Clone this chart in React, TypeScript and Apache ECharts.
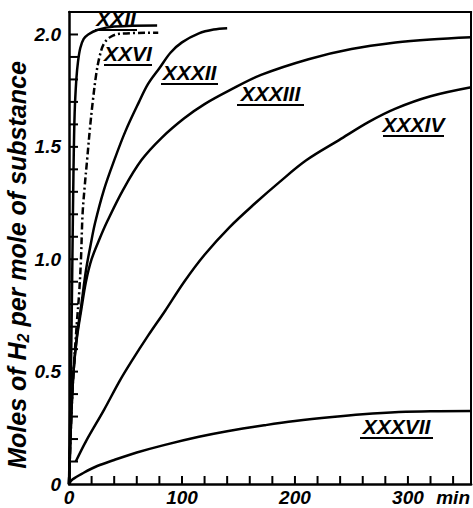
import React, { useEffect, useRef } from 'react';
import * as echarts from 'echarts';

// ---- data (x: minutes, y: moles H2 per mole substance) ----
const seriesNames = ['XXII', 'XXVI', 'XXXII', 'XXXIII', 'XXXIV', 'XXXVII'];

const xxii: number[][] = [
  [0, 0], [1, 0.3], [2, 0.6], [3, 1.0], [4, 1.4], [5, 1.65], [6.5, 1.8], [8, 1.88],
  [10, 1.94], [13, 1.98], [17, 2.0], [25, 2.02], [40, 2.035], [78, 2.04],
];
const xxvi: number[][] = [
  [0, 0], [2, 0.3], [4, 0.5], [7, 0.72], [9, 0.85], [10.6, 1.0], [12, 1.2], [14, 1.33],
  [16, 1.44], [18.5, 1.58], [21, 1.7], [24, 1.82], [27, 1.9], [31, 1.96], [37, 1.99],
  [45, 2.003], [79, 2.008],
];
const xxxii: number[][] = [
  [0, 0], [2, 0.3], [4, 0.5], [7, 0.66], [11, 0.8], [15, 0.95], [19, 1.06], [23, 1.16],
  [31, 1.31], [40, 1.44], [50, 1.57], [62, 1.7], [70, 1.78], [80, 1.85], [90, 1.92],
  [100, 1.965], [115, 2.005], [128, 2.022], [140, 2.028],
];
const xxxiii: number[][] = [
  [0, 0], [2, 0.3], [4, 0.5], [7, 0.65], [11, 0.78], [15, 0.9], [20, 1.0], [27, 1.09],
  [34, 1.17], [48, 1.31], [64, 1.44], [82, 1.54], [102, 1.627], [120, 1.69], [142, 1.751],
  [170, 1.82], [212, 1.89], [250, 1.935], [289, 1.964], [320, 1.978], [356, 1.988],
];
const xxxiv: number[][] = [
  [6, 0.1], [15, 0.19], [31, 0.33], [45, 0.46], [56, 0.551], [70, 0.66], [85, 0.77],
  [102, 0.9], [120, 1.02], [142, 1.142], [165, 1.25], [186, 1.342], [210, 1.44],
  [239, 1.53], [265, 1.61], [289, 1.67], [320, 1.725], [356, 1.765],
];
const xxxvii: number[][] = [
  [0, 0], [3, 0.02], [13, 0.05], [25, 0.08], [40, 0.107], [60, 0.14], [84, 0.173],
  [115, 0.21], [140, 0.235], [174, 0.262], [200, 0.28], [233, 0.298], [260, 0.31],
  [292, 0.32], [320, 0.324], [356, 0.325],
];

// tick positions
const xTicks = [20, 40, 60, 80, 100, 120, 140, 160, 180, 200, 220, 240, 260, 280, 300, 320, 340];
const yTicks = [0.1, 0.2, 0.3, 0.4, 0.5, 0.6, 0.7, 0.8, 0.9, 1.0, 1.1, 1.2, 1.3, 1.4, 1.5, 1.6, 1.7, 1.8, 1.9, 2.0];
const yLabelValues = [0, 0.5, 1.0, 1.5, 2.0];
const xLabelValues = [0, 100, 200, 300];
const xUnitAt = 340;
const xUnit = 'min';
const yTitleParts = ['Moles of H', '2', ' per mole of substance'];

// ---- layout (pixel positions of annotations) ----
const labelLayout = [
  { x: 95, y: 30, w: 42 },
  { x: 104, y: 65, w: 48 },
  { x: 161, y: 84, w: 57 },
  { x: 237, y: 105, w: 67 },
  { x: 383, y: 136, w: 61 },
  { x: 360, y: 438, w: 73 },
];

const FONT = '"Liberation Sans", Arial, sans-serif';
const TICK_LEN = 9;

export default function App() {
  const ref = useRef<HTMLDivElement>(null);
  useEffect(() => {
    if (!ref.current) return;
    const chart = echarts.init(ref.current, undefined, { renderer: 'svg' });
    const allData = [xxii, xxvi, xxxii, xxxiii, xxxiv, xxxvii];
    const series: any[] = allData.map((d, i) => ({
      name: seriesNames[i],
      type: 'line',
      data: d,
      showSymbol: false,
      smooth: 0.35,
      lineStyle: {
        color: '#000',
        width: 2.5,
        type: i === 1 ? [7, 3, 2, 3] : 'solid',
      },
      z: 3,
    }));

    const labelGraphics: any[] = [];
    seriesNames.forEach((n, i) => {
      const L = labelLayout[i];
      labelGraphics.push({
        type: 'text',
        x: L.x + L.w / 2,
        y: L.y - 1,
        style: {
          text: n,
          font: `italic bold 21px ${FONT}`,
          fill: '#000',
          textAlign: 'center',
          textVerticalAlign: 'bottom',
        },
        z: 10,
      });
      labelGraphics.push({
        type: 'line',
        shape: { x1: L.x, y1: L.y, x2: L.x + L.w, y2: L.y },
        style: { stroke: '#000', lineWidth: 2 },
        z: 10,
      });
    });

    const baseLabel = {
      color: '#000',
      fontSize: 19,
      fontStyle: 'italic',
      fontWeight: 'bold',
      fontFamily: FONT,
    };

    const titleGraphic = {
      type: 'text',
      x: 17,
      y: 265,
      rotation: Math.PI / 2,
      style: {
        text: `{n|${yTitleParts[0]}}{s|${yTitleParts[1]}}{n|${yTitleParts[2]}}`,
        textAlign: 'center',
        textVerticalAlign: 'middle',
        rich: {
          n: { font: `italic bold 25px ${FONT}`, fill: '#000', lineHeight: 28, verticalAlign: 'middle' },
          s: { font: `italic bold 16px ${FONT}`, fill: '#000', lineHeight: 28, verticalAlign: 'bottom' },
        },
      },
    };

    const option: any = {
      animation: false,
      backgroundColor: '#fff',
      grid: { left: 69, right: 1, top: 12, bottom: 24, show: false },
      xAxis: [
        {
          type: 'value',
          min: 0,
          max: 356,
          interval: 20,
          position: 'bottom',
          axisLine: { show: true, onZero: false, lineStyle: { color: '#000', width: 2.5 } },
          axisTick: { show: false },
          splitLine: { show: false },
          axisLabel: {
            ...baseLabel,
            margin: 4,
            showMaxLabel: false,
            formatter: (v: number) => {
              const r = Math.round(v);
              if (xLabelValues.includes(r)) return String(r);
              if (r === xUnitAt) return xUnit;
              return '';
            },
          },
        },
        {
          type: 'value',
          min: 0,
          max: 356,
          position: 'top',
          axisLine: { show: true, onZero: false, lineStyle: { color: '#000', width: 2 } },
          axisTick: { show: false },
          axisLabel: { show: false },
          splitLine: { show: false },
        },
      ],
      yAxis: [
        {
          type: 'value',
          min: 0,
          max: 2.1,
          interval: 0.1,
          position: 'left',
          axisLine: { show: true, onZero: false, lineStyle: { color: '#000', width: 2.5 } },
          axisTick: { show: false },
          splitLine: { show: false },
          axisLabel: {
            ...baseLabel,
            margin: 8,
            showMaxLabel: false,
            formatter: (v: number) => {
              const r = Math.round(v * 10) / 10;
              const hit = yLabelValues.find((t) => Math.abs(t - r) < 1e-6);
              if (hit === undefined) return '';
              return hit === 0 ? '0' : hit.toFixed(1);
            },
          },
        },
        {
          type: 'value',
          min: 0,
          max: 2.1,
          position: 'right',
          axisLine: { show: true, onZero: false, lineStyle: { color: '#000', width: 2 } },
          axisTick: { show: false },
          axisLabel: { show: false },
          splitLine: { show: false },
        },
      ],
      graphic: [titleGraphic, ...labelGraphics],
      series,
    };
    chart.setOption(option);

    // inward tick marks: positions taken from the axes' own scales
    const x0 = chart.convertToPixel({ xAxisIndex: 0 }, 0) as number;
    const y0 = chart.convertToPixel({ yAxisIndex: 0 }, 0) as number;
    const tickGraphics: any[] = [];
    xTicks.forEach((v) => {
      const px = chart.convertToPixel({ xAxisIndex: 0 }, v) as number;
      tickGraphics.push({
        type: 'line',
        shape: { x1: px, y1: y0, x2: px, y2: y0 - TICK_LEN + 1 },
        style: { stroke: '#000', lineWidth: 2 },
        z: 9,
      });
    });
    yTicks.forEach((v) => {
      const py = chart.convertToPixel({ yAxisIndex: 0 }, v) as number;
      tickGraphics.push({
        type: 'line',
        shape: { x1: x0, y1: py, x2: x0 + TICK_LEN, y2: py },
        style: { stroke: '#000', lineWidth: 2 },
        z: 9,
      });
    });
    chart.setOption({ graphic: [titleGraphic, ...labelGraphics, ...tickGraphics] });

    return () => chart.dispose();
  }, []);
  return (
    <div
      ref={ref}
      style={{ position: 'absolute', left: 0, top: 0, width: 473, height: 508 }}
    />
  );
}
